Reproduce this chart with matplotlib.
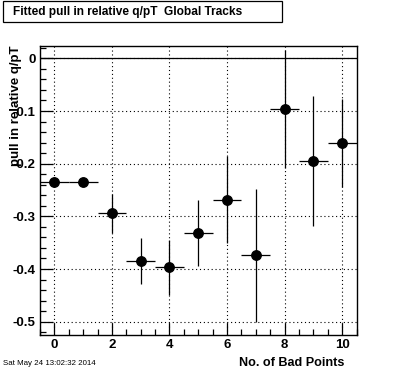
import matplotlib
matplotlib.use("Agg")
import matplotlib.pyplot as plt
from matplotlib.ticker import MultipleLocator
from matplotlib.patches import Rectangle

plt.rcParams['font.family'] = ['Liberation Sans', 'DejaVu Sans']

bad_points = [0, 1, 2, 3, 4, 5, 6, 7, 8, 9, 10]
pull = [-0.234, -0.234, -0.294, -0.385, -0.397, -0.332, -0.268, -0.374, -0.097, -0.195, -0.161]
pull_err = [0.0, 0.0, 0.037, 0.043, 0.052, 0.063, 0.082, 0.126, 0.112, 0.123, 0.083]
x_err = [0.5] * 11
y_ticks = [0, -0.1, -0.2, -0.3, -0.4, -0.5]
y_tick_labels = ['0', '-0.1', '-0.2', '-0.3', '-0.4', '-0.5']
x_ticks = [0, 2, 4, 6, 8, 10]
x_tick_labels = ['0', '2', '4', '6', '8', '10']

fig = plt.figure(figsize=(3.96, 3.72), dpi=100)
ax = fig.add_axes([40/396, 1 - 334.5/372, 316.5/396, (334.5 - 45.7)/372])

ax.set_xlim(-0.5, 10.5)
ax.set_ylim(-0.5243, 0.024)

ax.grid(True, which='major', color='black', linestyle=(0, (1, 2.5)), linewidth=0.8)
ax.axhline(0, color='black', linewidth=0.9)

ax.errorbar(bad_points, pull, yerr=pull_err, xerr=x_err, fmt='o', color='black',
            markersize=6.8, elinewidth=0.9, capsize=0, zorder=3)

ax.xaxis.set_minor_locator(MultipleLocator(0.5))
ax.yaxis.set_minor_locator(MultipleLocator(0.02))
ax.tick_params(which='both', direction='in', top=False, right=False, width=0.9)
ax.tick_params(which='major', length=9, pad=3)
ax.tick_params(which='minor', length=4.5)
ax.set_yticks(y_ticks)
ax.set_yticklabels(y_tick_labels, fontweight='bold', fontsize=9.5)
ax.set_xticks(x_ticks)
ax.set_xticklabels(x_tick_labels, fontweight='bold', fontsize=9.5)
for s in ax.spines.values():
    s.set_linewidth(1.0)

fig.text(16/396, 1 - 45/372, 'pull in relative q/pT', rotation=90, ha='center', va='top',
         fontsize=9.5, fontweight='bold')
fig.text(344/396, 1 - 363/372, 'No. of Bad Points', ha='right', va='center',
         fontsize=9.1, fontweight='bold')
fig.text(3/396, 1 - 363.5/372, 'Sat May 24 13:02:32 2014', ha='left', va='center', fontsize=5.7)

fig.patches.append(Rectangle((3/396, 1 - 22/372), 279/396, 21/372, transform=fig.transFigure,
                             fill=False, edgecolor='black', linewidth=0.9))
fig.text(13/396, 1 - 12/372, 'Fitted pull in relative q/pT  Global Tracks', ha='left', va='center',
         fontsize=8.6, fontweight='bold')

fig.savefig('out.png', dpi=100)
